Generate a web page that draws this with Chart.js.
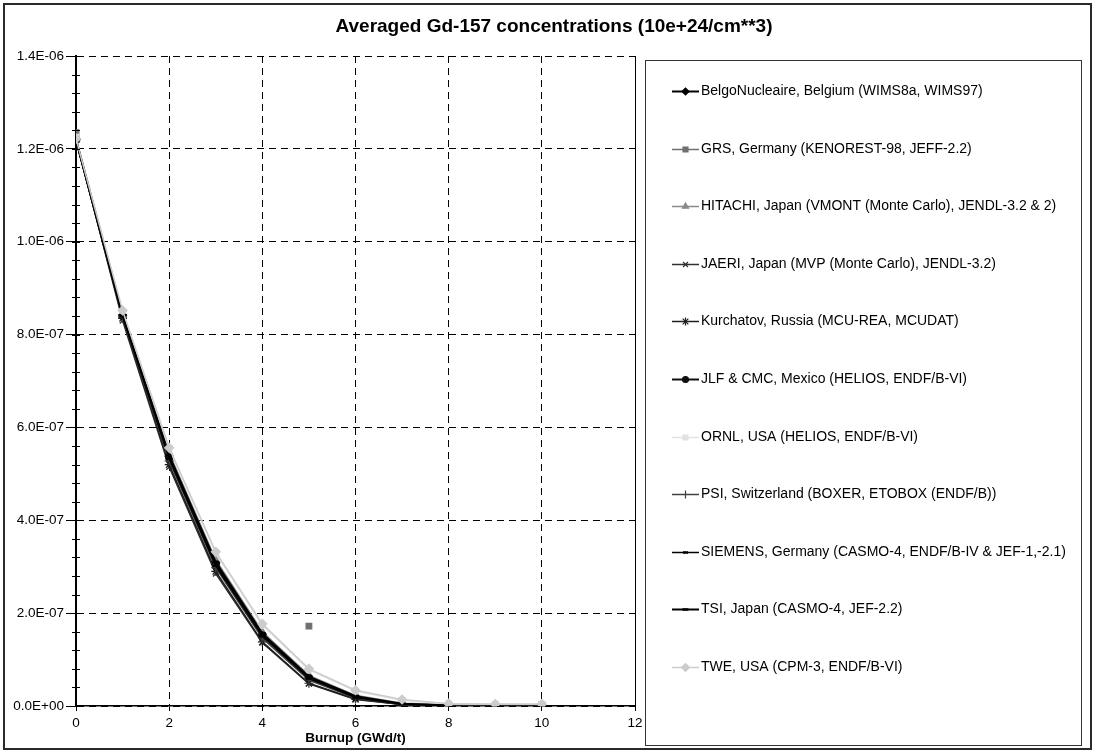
<!DOCTYPE html>
<html>
<head>
<meta charset="utf-8">
<script src="https://cdn.jsdelivr.net/npm/chart.js@4/dist/chart.umd.min.js"></script>
<style>
  html, body { margin: 0; padding: 0; background: #fff; }
  canvas { display: block; }
</style>
</head>
<body>
<canvas id="chartGd" width="1096" height="754"></canvas>
<script>
const chartTitle = 'Averaged Gd-157 concentrations (10e+24/cm**3)';
const xTitle = 'Burnup (GWd/t)';

const burnup = [0, 1, 2, 3, 4, 5, 6, 7, 8, 9, 10];

const seriesNames = [
    'BelgoNucleaire, Belgium (WIMS8a, WIMS97)',
    'GRS, Germany (KENOREST-98, JEFF-2.2)',
    'HITACHI, Japan (VMONT (Monte Carlo), JENDL-3.2 & 2)',
    'JAERI, Japan (MVP (Monte Carlo), JENDL-3.2)',
    'Kurchatov, Russia (MCU-REA, MCUDAT)',
    'JLF & CMC, Mexico (HELIOS, ENDF/B-VI)',
    'ORNL, USA (HELIOS, ENDF/B-VI)',
    'PSI, Switzerland (BOXER, ETOBOX (ENDF/B))',
    'SIEMENS, Germany (CASMO-4, ENDF/B-IV & JEF-1,-2.1)',
    'TSI, Japan (CASMO-4, JEF-2.2)',
    'TWE, USA (CPM-3, ENDF/B-VI)'
];

const belgo     = [1.220e-6, 8.42e-7, 5.38e-7, 3.08e-7, 1.54e-7, 6.2e-8, 2.0e-8, 4e-9, 1e-9];
const grs       = [1.235e-6, null, null, null, null, 1.72e-7, null, null, null, null, 3e-9];
const hitachi   = [1.220e-6, 8.45e-7, 5.45e-7, 3.15e-7, 1.60e-7, 6.6e-8, 2.3e-8, 6e-9, 3e-9, 3e-9, 3e-9];
const jaeri     = [1.220e-6, 8.30e-7, 5.15e-7, 2.85e-7, 1.36e-7, 4.8e-8, 1.4e-8, 3e-9, 1e-9];
const kurchatov = [1.220e-6, 8.35e-7, 5.20e-7, 2.90e-7, 1.38e-7, 4.9e-8, 1.5e-8, 3e-9, 1e-9];
const jlf       = [1.220e-6, 8.40e-7, 5.35e-7, 3.05e-7, 1.52e-7, 6.0e-8, 1.9e-8, 4e-9, 1e-9];
const ornl      = [1.225e-6, 8.50e-7, 5.55e-7, 3.30e-7, 1.74e-7, 7.8e-8, 3.2e-8, 1.2e-8, 5e-9, 4e-9, 4e-9];
const psi       = [1.220e-6, 8.38e-7, 5.28e-7, 2.98e-7, 1.46e-7, 5.6e-8, 1.7e-8, 3e-9, 1e-9];
const siemens   = [1.220e-6, 8.40e-7, 5.33e-7, 3.02e-7, 1.50e-7, 5.9e-8, 1.8e-8, 4e-9, 1e-9];
const tsi       = [1.220e-6, 8.42e-7, 5.40e-7, 3.10e-7, 1.56e-7, 6.3e-8, 2.1e-8, 5e-9, 1e-9];
const twe       = [1.222e-6, 8.52e-7, 5.56e-7, 3.32e-7, 1.77e-7, 8.0e-8, 3.4e-8, 1.4e-8, 5e-9, 4e-9, 4e-9];

const seriesValues = [belgo, grs, hitachi, jaeri, kurchatov, jlf, ornl, psi, siemens, tsi, twe];

// look of each series (Excel-ish greyscale)
const styles = [
    { color: '#000000', point: 'rectRot',  r: 4,   w: 2 },
    { color: '#707070', point: 'rect',     r: 4,   w: 1.5 },
    { color: '#8a8a8a', point: 'triangle', r: 4,   w: 1.5 },
    { color: '#303030', point: 'crossRot', r: 4,   w: 1.5 },
    { color: '#202020', point: 'star',     r: 4.5, w: 1.5 },
    { color: '#101010', point: 'circle',   r: 3.5, w: 2 },
    { color: '#e2e2e2', point: 'rect',     r: 4,   w: 1.5 },
    { color: '#404040', point: 'cross',    r: 4.5, w: 1.5 },
    { color: '#000000', point: 'line',     r: 3,   w: 1.5 },
    { color: '#000000', point: 'line',     r: 3.5, w: 2 },
    { color: '#cccccc', point: 'rectRot',  r: 4.5, w: 1.5 }
];

const fontFamily = '"Liberation Sans", Arial, sans-serif';

function fmtExp(v) {
    if (Math.abs(v) < 1e-15) return '0.0E+00';
    const parts = v.toExponential(1).split('e');
    const exp = parseInt(parts[1], 10);
    const sign = exp < 0 ? '-' : '+';
    return parts[0] + 'E' + sign + String(Math.abs(exp)).padStart(2, '0');
}

const datasets = seriesNames.map((name, i) => ({
    label: name,
    data: burnup.map((x, k) => ({ x: x, y: seriesValues[i][k] === undefined ? null : seriesValues[i][k] })),
    borderColor: styles[i].color,
    backgroundColor: styles[i].color,
    borderWidth: styles[i].w,
    pointStyle: styles[i].point,
    pointRadius: styles[i].r,
    pointBorderWidth: styles[i].point === 'line' ? 2.5 : 1.2,
    pointBorderColor: styles[i].color,
    pointBackgroundColor: styles[i].color,
    spanGaps: false,
    tension: 0,
    order: seriesNames.length - i
}));

const decor = {
    id: 'decor',
    beforeDraw(chart) {
        const ctx = chart.ctx;
        ctx.save();
        ctx.fillStyle = '#ffffff';
        ctx.fillRect(0, 0, chart.width, chart.height);
        ctx.restore();
    },
    afterDraw(chart) {
        const ctx = chart.ctx;
        const a = chart.chartArea;
        const ys = chart.scales.y;
        ctx.save();

        // outer frame
        ctx.strokeStyle = '#2a2a2a';
        ctx.lineWidth = 2;
        ctx.strokeRect(4, 4, 1087, 745);

        // titles
        ctx.fillStyle = '#000';
        ctx.textAlign = 'center';
        ctx.textBaseline = 'middle';
        ctx.font = 'bold 19px ' + fontFamily;
        ctx.fillText(chartTitle, 554, 27);
        ctx.font = 'bold 13.5px ' + fontFamily;
        ctx.fillText(xTitle, (a.left + a.right) / 2, 738);

        // right edge of plot area is solid
        ctx.strokeStyle = '#000';
        ctx.lineWidth = 1;
        ctx.beginPath();
        ctx.moveTo(a.right + 0.5, a.top);
        ctx.lineTo(a.right + 0.5, a.bottom + 5);
        ctx.stroke();

        // minor ticks on the y axis
        for (let k = 0; k <= 35; k++) {
            const y = Math.round(ys.getPixelForValue(k * 4e-8)) + 0.5;
            ctx.beginPath();
            ctx.moveTo(a.left - 4, y);
            ctx.lineTo(a.left + 4, y);
            ctx.stroke();
        }

        // legend box
        const lx = 645, ly = 60, lr = 1081, lb = 745;
        ctx.strokeStyle = '#333';
        ctx.lineWidth = 1;
        ctx.strokeRect(lx + 0.5, ly + 0.5, lr - lx, lb - ly);

        ctx.textAlign = 'left';
        ctx.font = '14px ' + fontFamily;
        chart.data.datasets.forEach((ds, i) => {
            const y = Math.round(91 + i * 57.6) + 0.5;
            ctx.strokeStyle = ds.borderColor;
            ctx.lineWidth = ds.borderWidth;
            ctx.beginPath();
            ctx.moveTo(672, y);
            ctx.lineTo(699, y);
            ctx.stroke();
            ctx.fillStyle = ds.pointBackgroundColor;
            ctx.strokeStyle = ds.pointBorderColor;
            ctx.lineWidth = ds.pointBorderWidth;
            if (Chart.helpers && Chart.helpers.drawPoint) {
                Chart.helpers.drawPoint(ctx, {
                    pointStyle: ds.pointStyle,
                    radius: ds.pointRadius - 0.5,
                    rotation: 0,
                    borderWidth: ds.pointBorderWidth
                }, 685.5, y);
            }
            ctx.fillStyle = '#000';
            ctx.fillText(ds.label, 701, y);
        });

        ctx.restore();
    }
};

new Chart(document.getElementById('chartGd').getContext('2d'), {
    type: 'line',
    data: { datasets: datasets },
    options: {
        responsive: false,
        devicePixelRatio: 1,
        animation: false,
        layout: { padding: { left: 0, top: 56, right: 461, bottom: 0 } },
        plugins: {
            legend: { display: false },
            title: { display: false },
            tooltip: { enabled: false }
        },
        scales: {
            x: {
                type: 'linear',
                min: 0,
                max: 12,
                afterFit: s => { s.height = 48; },
                ticks: {
                    stepSize: 2,
                    color: '#000',
                    padding: 4,
                    font: { family: fontFamily, size: 13.5 },
                    maxRotation: 0
                },
                grid: {
                    color: '#000',
                    lineWidth: 1,
                    tickLength: 5,
                    tickColor: '#000'
                },
                border: { color: '#000', width: 1.5, dash: [7, 5] }
            },
            y: {
                min: 0,
                max: 1.4e-6,
                afterFit: s => { s.width = 76; },
                ticks: {
                    stepSize: 2e-7,
                    color: '#000',
                    padding: 2,
                    font: { family: fontFamily, size: 13.5 },
                    callback: v => fmtExp(v)
                },
                grid: {
                    color: '#000',
                    lineWidth: 1,
                    tickLength: 10,
                    tickColor: '#000'
                },
                border: { color: '#000', width: 2, dash: [7, 5] }
            }
        }
    },
    plugins: [decor]
});
</script>
</body>
</html>
